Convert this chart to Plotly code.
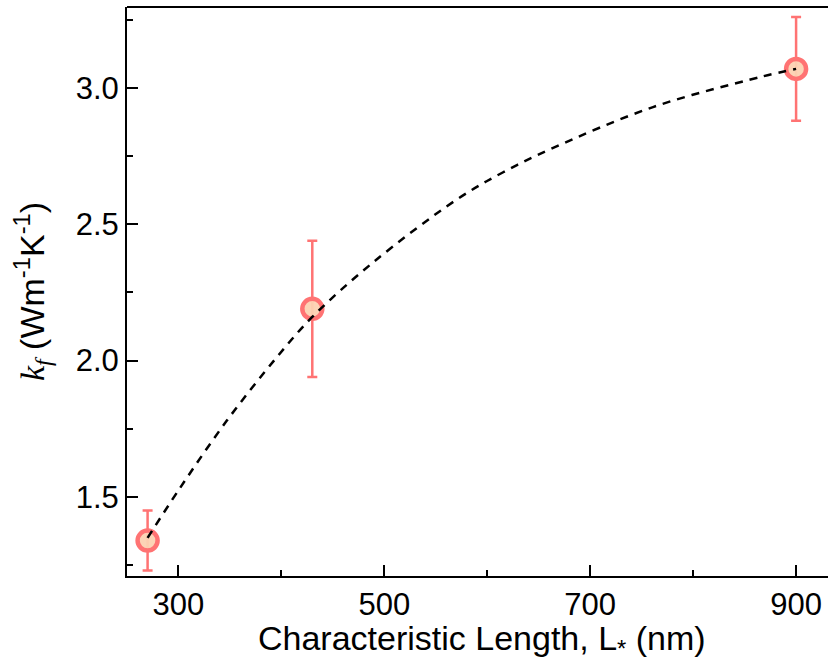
import plotly.graph_objects as go

# measured data
length_nm = [270, 430, 900]
kf = [1.34, 2.19, 3.07]
kf_err = [0.11, 0.25, 0.19]

# fitted curve
fit_x = [270, 301, 347, 395, 430, 489, 570, 615, 664, 761, 865, 900]
fit_y = [1.35, 1.53, 1.78, 2.01, 2.16, 2.36, 2.59, 2.69, 2.78, 2.93, 3.04, 3.07]

x_ticks = [300, 500, 700, 900]
y_ticks = [1.5, 2.0, 2.5, 3.0]

red = "#FF7373"
fill = "rgba(252,210,178,0.95)"

fig = go.Figure()
fig.add_trace(go.Scatter(
    x=length_nm, y=kf, mode="markers",
    marker=dict(symbol="circle", size=20, color=fill, line=dict(color=red, width=4.5)),
    error_y=dict(type="data", array=kf_err, color=red, thickness=2.5, width=5),
    showlegend=False,
))
fig.add_trace(go.Scatter(
    x=fit_x, y=fit_y, mode="lines", line_shape="spline",
    line=dict(color="black", width=2.5, dash="8px,7px"),
    showlegend=False,
))

sans = "Liberation Sans, Arial, sans-serif"
axis_font = dict(family=sans, size=31, color="black")

fig.update_layout(
    width=828, height=663,
    margin=dict(l=127, r=0, t=7, b=87),
    plot_bgcolor="white", paper_bgcolor="white",
    font=axis_font,
    xaxis=dict(
        range=[250, 931], tickvals=x_ticks, ticktext=[str(v) for v in x_ticks],
        showgrid=False, zeroline=False, showline=True, linecolor="black", linewidth=2,
        ticks="inside", ticklen=11, tickwidth=2, tickcolor="black",
        minor=dict(dtick=100, tick0=300, ticks="inside", ticklen=6, tickwidth=2, tickcolor="black"),
        tickfont=axis_font, automargin=False,
    ),
    yaxis=dict(
        range=[1.21, 3.297], tickvals=y_ticks, ticktext=["%.1f" % v for v in y_ticks],
        showgrid=False, zeroline=False, showline=True, linecolor="black", linewidth=2,
        ticks="inside", ticklen=11, tickwidth=2, tickcolor="black",
        minor=dict(dtick=0.25, tick0=1.25, ticks="inside", ticklen=6, tickwidth=2, tickcolor="black"),
        tickfont=axis_font, automargin=False,
    ),
    shapes=[dict(type="line", xref="paper", yref="paper", x0=0, x1=1, y0=1, y1=1,
                 line=dict(color="black", width=2))],
    annotations=[
        dict(text="Characteristic Length, L<sub>*</sub> (nm)", xref="paper", yref="paper",
             x=0.506, y=-0.114, xanchor="center", yanchor="middle", showarrow=False,
             font=dict(family=sans, size=34, color="black")),
        dict(text="<span style=\"font-family:'Liberation Serif'\"><i>k<sub>f</sub></i></span> (Wm<sup>-1</sup>K<sup>-1</sup>)",
             xref="paper", yref="paper", x=-0.1355, y=0.499, xanchor="center", yanchor="middle",
             textangle=-90, showarrow=False, font=dict(family=sans, size=34, color="black")),
    ],
)

fig.write_html("out.html", config={"displayModeBar": False},
               post_script="document.body.style.margin='0px';document.body.style.overflow='hidden';")
